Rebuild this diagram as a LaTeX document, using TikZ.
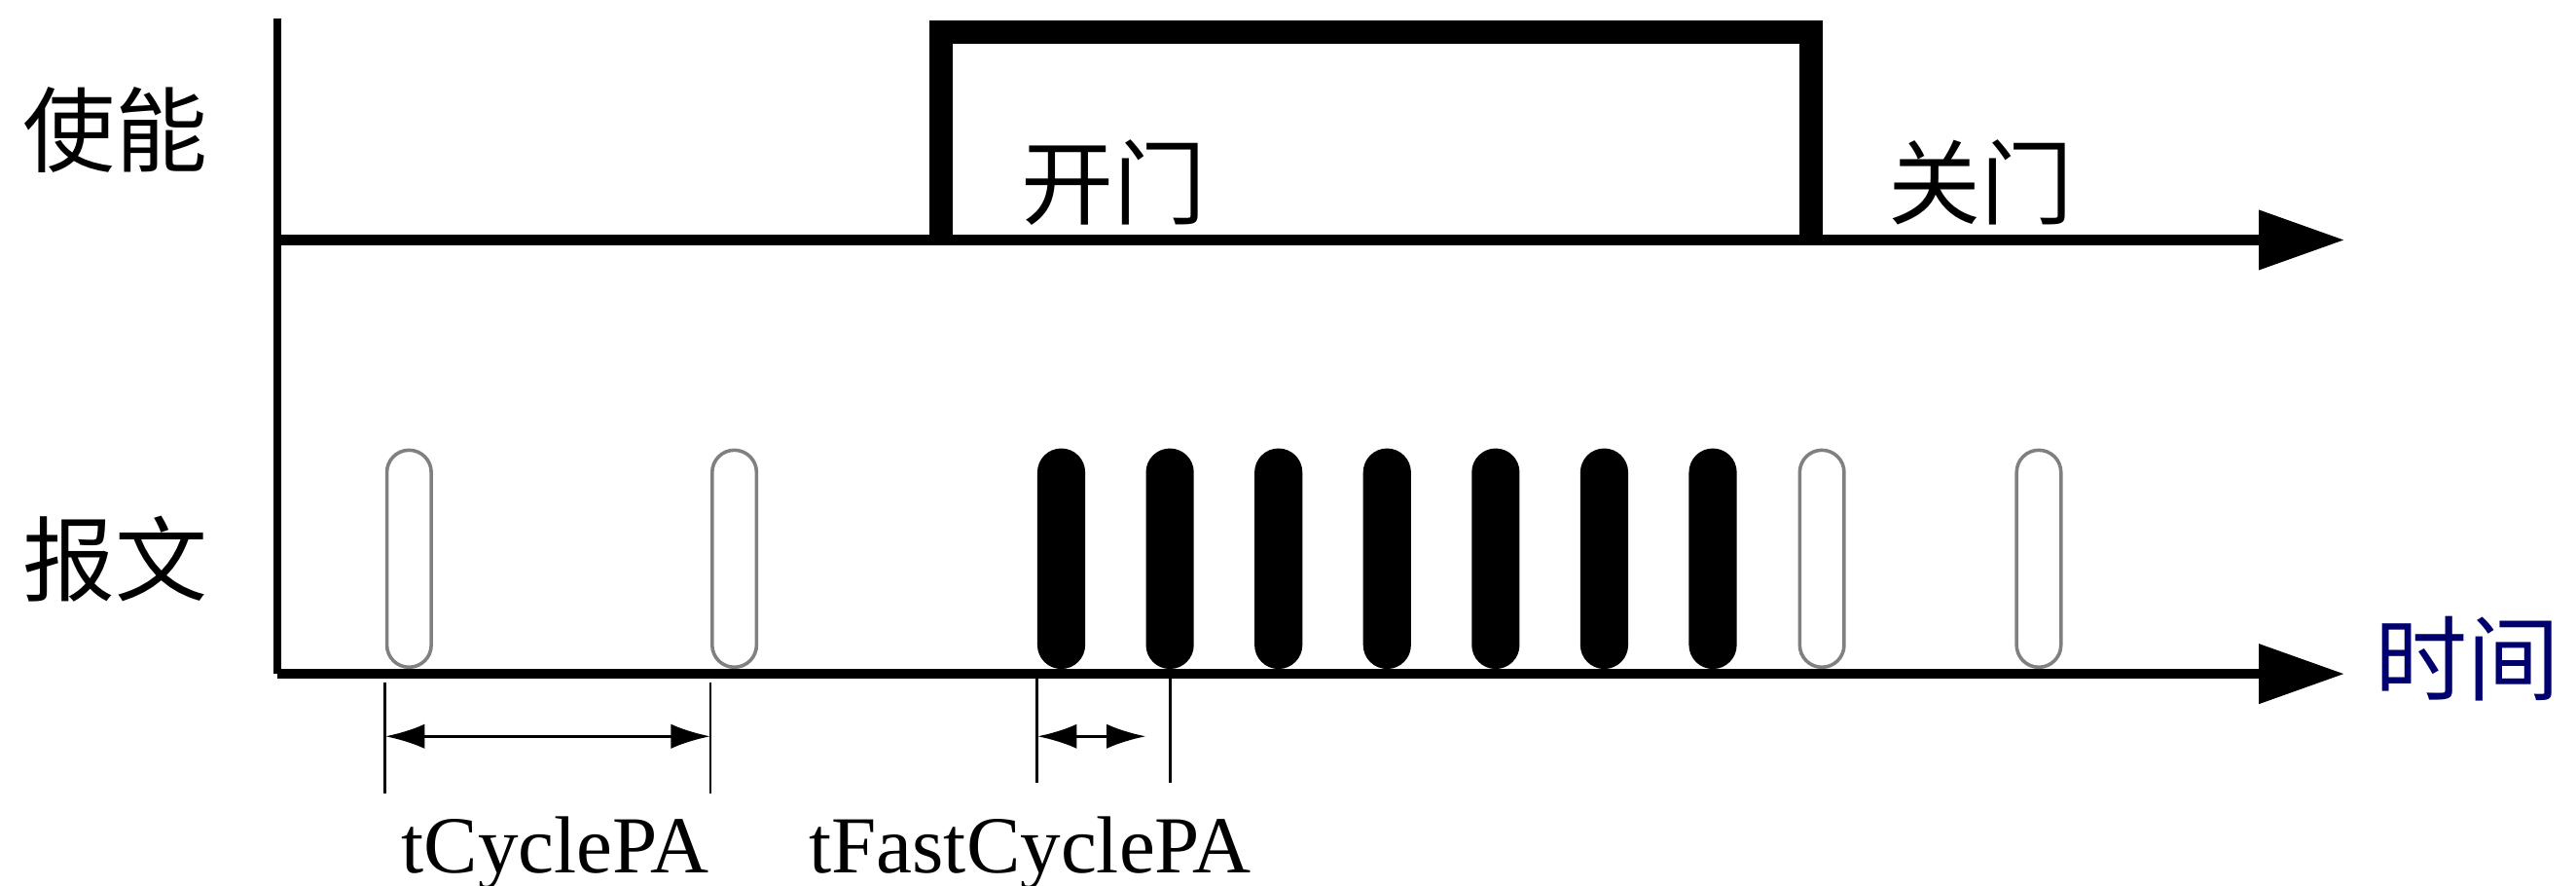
\documentclass[tikz,border=0pt]{standalone}
\usepackage{fontspec}
\setmainfont{Liberation Serif}
\newfontfamily\cjk{Noto Sans CJK SC}
\usetikzlibrary{arrows.meta}
\definecolor{timeblue}{RGB}{0,0,110}
\begin{document}
\begin{tikzpicture}[x=0.01cm, y=-0.01cm,
  every node/.style = {inner sep=0pt},
  cjktext/.style = {font=\cjk\fontsize{16}{16}\selectfont},
  timetext/.style = {font=\fontsize{14}{14}\selectfont, anchor=base},
  axisline/.style = {line width=1.7pt, -{Triangle[length=0.52cm, width=0.35cm]}},
  gateline/.style = {line width=4pt, line join=miter},
  slowmsg/.style = {draw=gray, line width=0.6pt, fill=white,
    minimum width=0.27cm, minimum height=1.32cm,
    rounded corners=0.135cm, anchor=south},
  fastmsg/.style = {slowmsg, draw=black, fill=black},
  dimline/.style = {line width=0.5pt},
  dimarrow/.style = {line width=0.6pt,
    {Latex[length=0.24cm, width=0.15cm]}-{Latex[length=0.24cm, width=0.15cm]}}]
\useasboundingbox (0,0) rectangle (1568,539);
\coordinate (top) at (169,11);
\coordinate (o1) at (169,146);
\coordinate (o2) at (169,410);
\coordinate (end1) at (1427,146);
\coordinate (end2) at (1427,410);
\draw[line width=1.3pt] (top) -- (o2);
\draw[axisline] (o1) -- (end1);
\draw[axisline] (o2) -- (end2);
\draw[gateline] (573,146) -- (573,19.5) -- (1102.5,19.5) -- (1102.5,146);
\node[cjktext] (enable) at (70,79) {使能};
\node[cjktext] (msg) at (70,340) {报文};
\node[cjktext] (open) at (678,111) {开门};
\node[cjktext] (close) at (1206,111) {关门};
\node[cjktext, text=timeblue] (time) at (1502,401) {时间};
\node[slowmsg] (s1) at (249,407) {};
\node[slowmsg] (s2) at (447,407) {};
\node[slowmsg] (s3) at (1109,407) {};
\node[slowmsg] (s4) at (1241,407) {};
\foreach \i in {0,...,6}
  \node[fastmsg] (f\i) at ({646+66.1*\i},407) {};
\draw[dimline] (s1.south west |- 0,415) -- (s1.south west |- 0,483);
\draw[dimline] (s2.south west |- 0,415) -- (s2.south west |- 0,483);
\draw[dimarrow] (s1.south west |- 0,448) -- (s2.south west |- 0,448);
\draw[dimline] (f0.south west |- 0,413) -- (f0.south west |- 0,476);
\draw[dimline] (f1.south |- 0,413) -- (f1.south |- 0,476);
\draw[dimarrow] (f0.south west |- 0,448) -- (f1.south west |- 0,448);
\node[timetext] (cyc) at (338,531) {tCyclePA};
\node[timetext] (fast) at (627,531) {tFastCyclePA};
\end{tikzpicture}
\end{document}
